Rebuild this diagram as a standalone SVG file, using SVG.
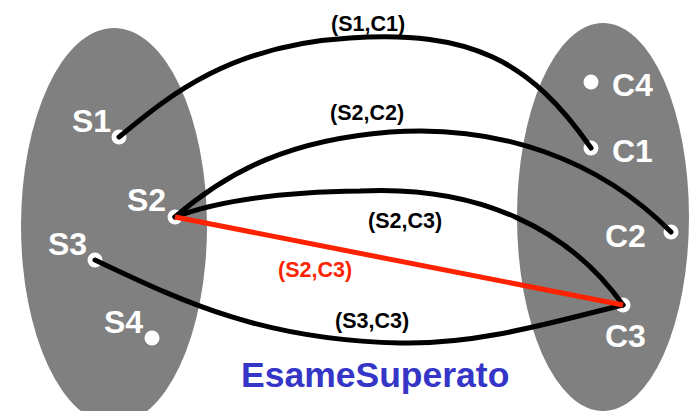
<svg xmlns="http://www.w3.org/2000/svg" width="693" height="411" viewBox="0 0 693 411">
<style>
.set{fill:#808080}
.dot{fill:#fff}
.nl{font-family:"Liberation Sans",Arial,sans-serif;font-weight:bold;font-size:32px;fill:#fff}
.el{font-family:"Liberation Sans",Arial,sans-serif;font-weight:bold;font-size:21.5px;fill:#000}
.edge{fill:none;stroke:#000;stroke-width:5;stroke-linecap:round}
.hl{fill:none;stroke:#ff2200;stroke-width:5;stroke-linecap:butt}
.title{font-family:"Liberation Sans",Arial,sans-serif;font-weight:bold;font-size:35.5px;fill:#3535c8}
</style>
<rect width="693" height="411" fill="#fff"/>
<g id="setS"><ellipse class="set" cx="114" cy="226" rx="93" ry="198"/></g>
<g id="setC"><ellipse class="set" cx="603" cy="217" rx="86" ry="194"/></g>
<g id="S1"><circle class="dot" cx="119" cy="137" r="7.5"/><text class="nl" x="72" y="132">S1</text></g>
<g id="S2"><circle class="dot" cx="175" cy="217" r="7.5"/><text class="nl" x="127" y="211">S2</text></g>
<g id="S3"><circle class="dot" cx="95" cy="260" r="7.5"/><text class="nl" x="48" y="255">S3</text></g>
<g id="S4"><circle class="dot" cx="152" cy="338" r="7.5"/><text class="nl" x="104" y="333">S4</text></g>
<g id="C4"><circle class="dot" cx="591" cy="82" r="7.5"/><text class="nl" x="612" y="96">C4</text></g>
<g id="C1"><circle class="dot" cx="591" cy="148" r="7.5"/><text class="nl" x="612" y="162">C1</text></g>
<g id="C2"><circle class="dot" cx="671" cy="232" r="7.5"/><text class="nl" x="605" y="247">C2</text></g>
<g id="C3"><circle class="dot" cx="623" cy="305" r="7.5"/><text class="nl" x="605" y="347">C3</text></g>
<g id="connectors">
<path class="edge" d="M119,137 C170,95 230,45 350,38 C470,30 530,60 591,148"/>
<path class="edge" d="M175,217 C230,170 290,140 390,132 C500,124 600,160 671,232"/>
<path class="edge" d="M175,217 C220,200 280,192 360,191 C480,185 570,230 623,305"/>
<path class="edge" d="M95,260 C180,300 260,340 400,343 C480,345 560,320 623,305"/>
<path class="hl" d="M175,217 L623,305"/>
</g>
<g id="labels">
<text class="el" x="331" y="31">(S1,C1)</text>
<text class="el" x="330" y="120">(S2,C2)</text>
<text class="el" x="368" y="228">(S2,C3)</text>
<text class="el" x="278" y="277" style="fill:#ff2200">(S2,C3)</text>
<text class="el" x="335" y="328">(S3,C3)</text>
</g>
<text class="title" x="241" y="387">EsameSuperato</text>
</svg>
